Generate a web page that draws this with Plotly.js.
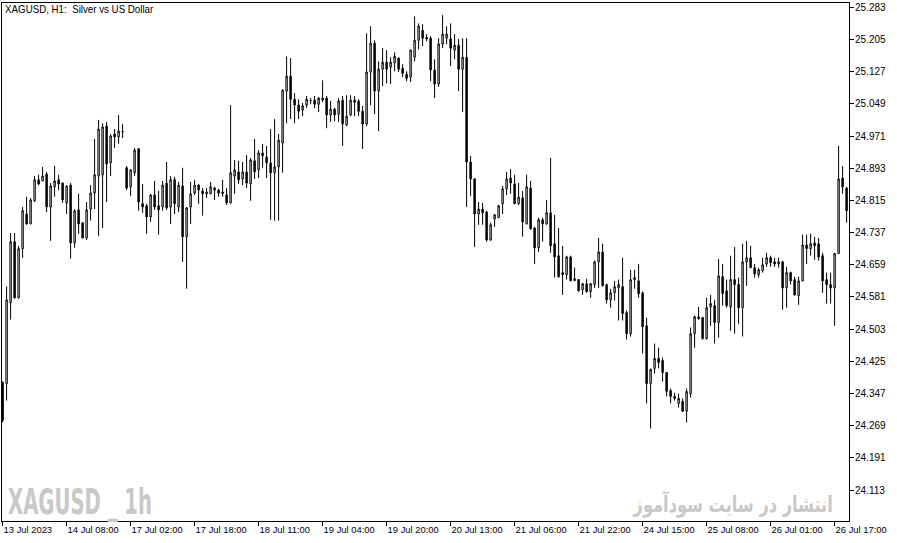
<!DOCTYPE html>
<html><head><meta charset="utf-8">
<script src="https://cdn.plot.ly/plotly-3.0.1.min.js"></script>
<style>html,body{margin:0;padding:0;background:#fff;} #chart{width:897px;height:543px;}</style>
</head><body><div id="chart"></div>
<script>
const opens = [
24.374,24.371,24.567,24.715,24.579,24.698,24.782,24.758,24.814,24.865,
24.862,24.879,24.799,24.848,24.865,24.857,24.809,24.852,24.712,24.792,
24.761,24.724,24.794,24.833,24.874,24.877,24.995,24.906,24.976,24.969,
24.981,24.894,24.848,24.882,24.940,24.807,24.802,24.775,24.828,24.802,
24.799,24.857,24.799,24.865,24.799,24.850,24.727,24.799,24.833,24.852,
24.838,24.831,24.831,24.845,24.840,24.835,24.828,24.809,24.874,24.884,
24.867,24.884,24.855,24.911,24.889,24.930,24.920,24.906,24.882,24.896,
24.954,25.080,25.116,25.060,25.046,25.034,25.046,25.056,25.058,25.048,
25.058,25.063,25.022,25.036,25.024,25.058,24.998,25.022,25.058,25.056,
25.031,25.000,25.126,25.196,25.080,25.133,25.150,25.138,25.148,25.160,
25.135,25.121,25.114,25.162,25.203,25.227,25.206,25.208,25.131,25.097,
25.194,25.208,25.206,25.179,25.191,25.133,25.162,24.908,24.867,24.782,
24.794,24.787,24.719,24.770,24.773,24.807,24.843,24.869,24.855,24.807,
24.821,24.758,24.845,24.748,24.700,24.768,24.758,24.785,24.710,24.681,
24.640,24.635,24.678,24.625,24.623,24.599,24.613,24.594,24.611,24.666,
24.690,24.611,24.574,24.591,24.603,24.606,24.543,24.492,24.623,24.620,
24.591,24.511,24.371,24.408,24.432,24.427,24.398,24.354,24.340,24.323,
24.328,24.304,24.347,24.492,24.533,24.531,24.480,24.557,24.560,24.519,
24.630,24.596,24.557,24.623,24.611,24.555,24.666,24.676,24.652,24.635,
24.645,24.661,24.676,24.666,24.661,24.666,24.603,24.640,24.623,24.584,
24.620,24.707,24.698,24.712,24.710,24.681,24.623,24.611,24.603,24.686,
24.869,24.845];
const highs = [
24.376,24.606,24.736,24.736,24.705,24.799,24.824,24.821,24.874,24.877,
24.896,24.884,24.857,24.899,24.877,24.858,24.852,24.857,24.794,24.831,
24.762,24.811,24.852,24.964,25.010,25.002,25.005,24.976,24.988,25.022,
25.000,24.898,24.891,24.942,24.942,24.855,24.807,24.831,24.862,24.838,
24.862,24.908,24.874,24.872,24.860,24.894,24.799,24.860,24.865,24.855,
24.845,24.845,24.860,24.848,24.843,24.865,24.845,25.046,24.913,24.911,
24.908,24.925,24.918,24.964,24.937,24.952,24.947,24.988,25.012,24.976,
25.085,25.164,25.160,25.075,25.060,25.051,25.068,25.063,25.068,25.065,
25.106,25.068,25.056,25.039,25.063,25.068,25.070,25.070,25.068,25.060,
25.044,25.220,25.237,25.203,25.152,25.184,25.179,25.162,25.174,25.162,
25.145,25.128,25.181,25.261,25.244,25.242,25.218,25.213,25.157,25.208,
25.264,25.237,25.244,25.218,25.206,25.208,25.208,24.923,24.869,24.811,
24.809,24.790,24.761,24.782,24.804,24.850,24.884,24.891,24.877,24.857,
24.838,24.877,24.862,24.751,24.773,24.773,24.816,24.918,24.780,24.748,
24.705,24.681,24.681,24.652,24.624,24.615,24.625,24.615,24.669,24.724,
24.710,24.613,24.601,24.620,24.623,24.676,24.548,24.647,24.647,24.661,
24.594,24.531,24.408,24.468,24.458,24.434,24.399,24.359,24.349,24.347,
24.335,24.359,24.507,24.536,24.557,24.533,24.579,24.586,24.574,24.673,
24.661,24.623,24.681,24.702,24.628,24.710,24.717,24.705,24.661,24.652,
24.676,24.688,24.681,24.676,24.676,24.669,24.654,24.642,24.630,24.630,
24.732,24.732,24.734,24.727,24.724,24.688,24.640,24.640,24.688,24.947,
24.898,24.848];
const lows = [
24.277,24.330,24.526,24.577,24.577,24.676,24.756,24.758,24.811,24.852,
24.862,24.787,24.717,24.824,24.840,24.809,24.782,24.674,24.700,24.734,
24.724,24.719,24.766,24.794,24.729,24.748,24.811,24.874,24.942,24.952,
24.966,24.840,24.826,24.874,24.790,24.785,24.734,24.763,24.792,24.732,
24.790,24.792,24.758,24.782,24.787,24.666,24.601,24.758,24.828,24.807,
24.778,24.821,24.830,24.816,24.824,24.824,24.804,24.807,24.831,24.855,
24.852,24.845,24.814,24.867,24.869,24.894,24.869,24.768,24.766,24.766,
24.882,25.002,25.012,25.002,25.012,25.019,25.039,25.048,25.039,25.029,
25.053,24.990,25.005,25.007,25.005,24.947,24.995,25.019,25.019,25.019,
24.940,24.995,25.046,25.024,24.983,25.092,25.099,25.097,25.128,25.126,
25.114,25.104,25.102,25.152,25.181,25.189,25.201,25.104,25.063,25.090,
25.184,25.194,25.140,25.157,25.080,25.029,24.799,24.826,24.702,24.756,
24.756,24.715,24.717,24.751,24.773,24.782,24.828,24.831,24.806,24.804,
24.727,24.757,24.744,24.661,24.690,24.715,24.756,24.688,24.628,24.628,
24.586,24.623,24.619,24.619,24.594,24.586,24.591,24.579,24.603,24.603,
24.606,24.565,24.555,24.572,24.524,24.524,24.478,24.485,24.601,24.579,
24.444,24.323,24.262,24.395,24.408,24.376,24.340,24.323,24.330,24.313,
24.303,24.277,24.337,24.458,24.526,24.478,24.478,24.511,24.468,24.482,
24.560,24.555,24.499,24.492,24.516,24.485,24.608,24.651,24.628,24.628,
24.640,24.654,24.654,24.654,24.652,24.550,24.555,24.611,24.584,24.562,
24.619,24.661,24.681,24.671,24.669,24.591,24.565,24.565,24.511,24.685,
24.831,24.761];
const closes = [
24.282,24.574,24.715,24.579,24.698,24.790,24.758,24.816,24.865,24.855,
24.874,24.799,24.850,24.862,24.855,24.816,24.850,24.712,24.790,24.758,
24.724,24.792,24.833,24.877,24.988,24.993,24.903,24.971,24.969,24.983,
24.982,24.845,24.889,24.937,24.811,24.799,24.775,24.828,24.799,24.792,
24.852,24.797,24.865,24.807,24.852,24.727,24.797,24.831,24.852,24.840,
24.831,24.835,24.848,24.840,24.833,24.831,24.809,24.882,24.889,24.865,
24.884,24.857,24.913,24.884,24.930,24.923,24.906,24.882,24.896,24.961,
25.082,25.116,25.060,25.046,25.031,25.044,25.060,25.057,25.048,25.063,
25.063,25.022,25.036,25.022,25.056,25.000,25.019,25.058,25.053,25.031,
25.000,25.126,25.196,25.080,25.133,25.150,25.133,25.150,25.164,25.133,
25.123,25.111,25.179,25.203,25.237,25.208,25.210,25.131,25.097,25.194,
25.218,25.218,25.184,25.191,25.133,25.162,24.908,24.867,24.782,24.794,
24.785,24.719,24.756,24.780,24.802,24.843,24.867,24.857,24.807,24.823,
24.763,24.848,24.746,24.700,24.768,24.758,24.785,24.705,24.678,24.630,
24.635,24.678,24.620,24.621,24.596,24.613,24.594,24.613,24.666,24.690,
24.608,24.574,24.591,24.606,24.611,24.541,24.492,24.623,24.628,24.589,
24.509,24.371,24.405,24.432,24.422,24.398,24.352,24.340,24.335,24.335,
24.304,24.352,24.492,24.533,24.528,24.480,24.555,24.565,24.519,24.632,
24.589,24.560,24.623,24.611,24.555,24.666,24.676,24.652,24.637,24.647,
24.659,24.676,24.664,24.661,24.666,24.603,24.640,24.620,24.586,24.620,
24.707,24.698,24.710,24.705,24.678,24.620,24.611,24.603,24.686,24.867,
24.848,24.790];
const tickBars = [0,16,32,48,64,80,96,112,128,144,160,176,192,208];
const tickLabels = ["13 Jul 2023","14 Jul 08:00","17 Jul 02:00","17 Jul 18:00","18 Jul 11:00","19 Jul 04:00","19 Jul 20:00","20 Jul 13:00","21 Jul 06:00","21 Jul 22:00","24 Jul 15:00","25 Jul 08:00","26 Jul 01:00","26 Jul 17:00"];
const chartTitle = "XAGUSD, H1:\u00a0 Silver vs US Dollar";
const markLeft = "XAGUSD _ 1h";
const markRight = "انتشار در سایت سودآموز";

const bars = opens.map((_, i) => i);
const FONT = "Liberation Sans, Arial, sans-serif";

const trace = {
  type: 'candlestick', x: bars, open: opens, high: highs, low: lows, close: closes,
  increasing: {line: {color: '#000', width: 1}, fillcolor: '#ffffff'},
  decreasing: {line: {color: '#000', width: 1}, fillcolor: '#000000'},
  whiskerwidth: 0, hoverinfo: 'skip', showlegend: false
};

const layout = {
  width: 897, height: 543,
  margin: {l: 2, r: 48, t: 3, b: 22, pad: 0},
  paper_bgcolor: '#fff', plot_bgcolor: '#fff',
  boxgap: 0.5,
  showlegend: false,
  font: {family: FONT, size: 10, color: '#000'},
  xaxis: {
    range: [-0.15, 211.6], tickmode: 'array', tickvals: tickBars, ticktext: tickLabels,
    ticks: 'outside', ticklen: 4, tickcolor: '#000', tickwidth: 1,
    ticklabelposition: 'outside right',
    showgrid: false, zeroline: false, showline: true, linecolor: '#000', linewidth: 1, mirror: true,
    rangeslider: {visible: false}, fixedrange: true,
    tickfont: {family: FONT, size: 9.4, color: '#000'}
  },
  yaxis: {
    side: 'right', range: [24.038, 25.2934], tickmode: 'linear', tick0: 24.113, dtick: 0.078,
    tickformat: '.3f', ticks: 'outside', ticklen: 4, tickcolor: '#000', tickwidth: 1,
    ticklabelstandoff: -1,
    showgrid: false, zeroline: false, showline: true, linecolor: '#000', linewidth: 1, mirror: true,
    fixedrange: true,
    tickfont: {family: FONT, size: 10, color: '#000'}
  },
  annotations: [
    {text: chartTitle, xref: 'paper', yref: 'paper', x: 0, y: 1, xanchor: 'left', yanchor: 'top',
     xshift: 1, yshift: 1, showarrow: false, font: {family: FONT, size: 10, color: '#000'}},
    {text: '<b>' + markLeft + '</b>', xref: 'paper', yref: 'paper', x: 0, y: 0, xanchor: 'left', yanchor: 'bottom',
     xshift: 4, yshift: -3, showarrow: false,
     font: {family: 'Liberation Sans Narrow, DejaVu Sans Condensed, Liberation Sans, sans-serif', size: 36, color: '#c8c8c8'}},
    {text: '<b>' + markRight + '</b>', xref: 'paper', yref: 'paper', x: (835 - 2) / 847, y: 0, xanchor: 'right', yanchor: 'bottom',
     xshift: 0, yshift: 1, showarrow: false,
     font: {family: 'DejaVu Sans, sans-serif', size: 22, color: '#c8c8c8'}}
  ]
};

function fitText(idx, target, anchorRight) {
  const el = document.querySelector('.annotation[data-index="' + idx + '"] text');
  if (!el) return;
  const bb = el.getBBox();
  if (!bb.width) return;
  const s = target / bb.width;
  const ox = anchorRight ? bb.x + bb.width : bb.x;
  el.setAttribute('transform', 'translate(' + ox + ',0) scale(' + s + ',1) translate(' + (-ox) + ',0)');
}

Plotly.newPlot('chart', [trace], layout, {displayModeBar: false, staticPlot: true}).then(() => {
  fitText(0, 149, false);
  fitText(1, 144, false);
  fitText(2, 200, true);
});
</script>
</body></html>
